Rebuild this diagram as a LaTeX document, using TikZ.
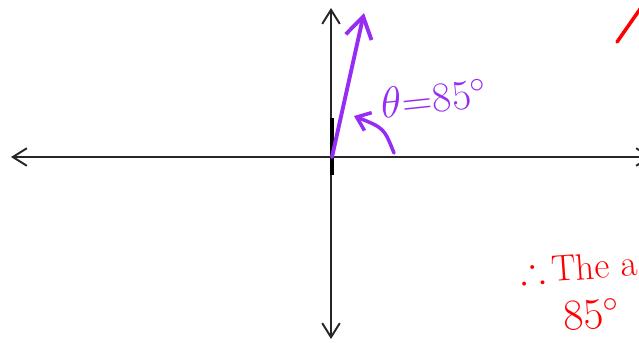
\documentclass[tikz,border=0pt]{standalone}
\usepackage{amsmath,amssymb}
\usepackage{tikz}
\usetikzlibrary{positioning, arrows.meta}
\definecolor{penpurple}{RGB}{150,45,245}
\definecolor{penred}{RGB}{255,0,0}

\begin{document}
\begin{tikzpicture}[x=0.02cm, y=-0.02cm, >=Stealth,
    axis/.style={draw=black!85, line width=1.1pt, {Straight Barb[length=8pt, width=10pt]}-{Straight Barb[length=8pt, width=10pt]}},
    vec/.style={draw=penpurple, line width=2.2pt, line cap=round, -{Straight Barb[length=12pt, width=15pt]}},
    turn/.style={draw=penpurple, line width=2pt, line cap=round, -{Straight Barb[length=7pt, width=11pt]}},
    pen/.style={font=\fontsize{24}{28}\selectfont, inner sep=0pt},
    redpen/.style={text=penred, inner sep=0pt, anchor=base west}]
    \useasboundingbox (0,0) rectangle (639,342);
    \clip (0,0) rectangle (639,342);
    % axes
    \coordinate (O) at (332,157);
    \coordinate (xl) at (11,157);
    \coordinate (xr) at (652,157);
    \coordinate (yt) at (331,8);
    \coordinate (yb) at (331,339);
    \draw[axis] (xl) -- (xr);
    \draw[axis] (yb) -- (yt);
    \draw[line width=2.2pt] (332,118) -- (332,175);
    % vector and angle
    \coordinate (tip) at (364,13);
    \draw[vec] (O) -- (tip);
    \coordinate (a1) at (394,153);
    \coordinate (a2) at (354,116);
    \draw[turn] (a1) .. controls (384,128) .. (a2);
    \node[pen, text=penpurple, rotate=6] (theta) at (434,98) {$\theta$=85$^\circ$};
    % red notes
    \coordinate (r1) at (617,42);
    \coordinate (r2) at (645,2);
    \draw[penred, line width=2pt, line cap=round] (r1) -- (r2);
    \node[redpen, font=\fontsize{21}{24}\selectfont, rotate=4] (concl) at (521,284) {$\therefore$\,The a};
    \node[redpen, font=\fontsize{25}{28}\selectfont, rotate=4] (angle) at (564,331) {85$^\circ$};
\end{tikzpicture}
\end{document}
